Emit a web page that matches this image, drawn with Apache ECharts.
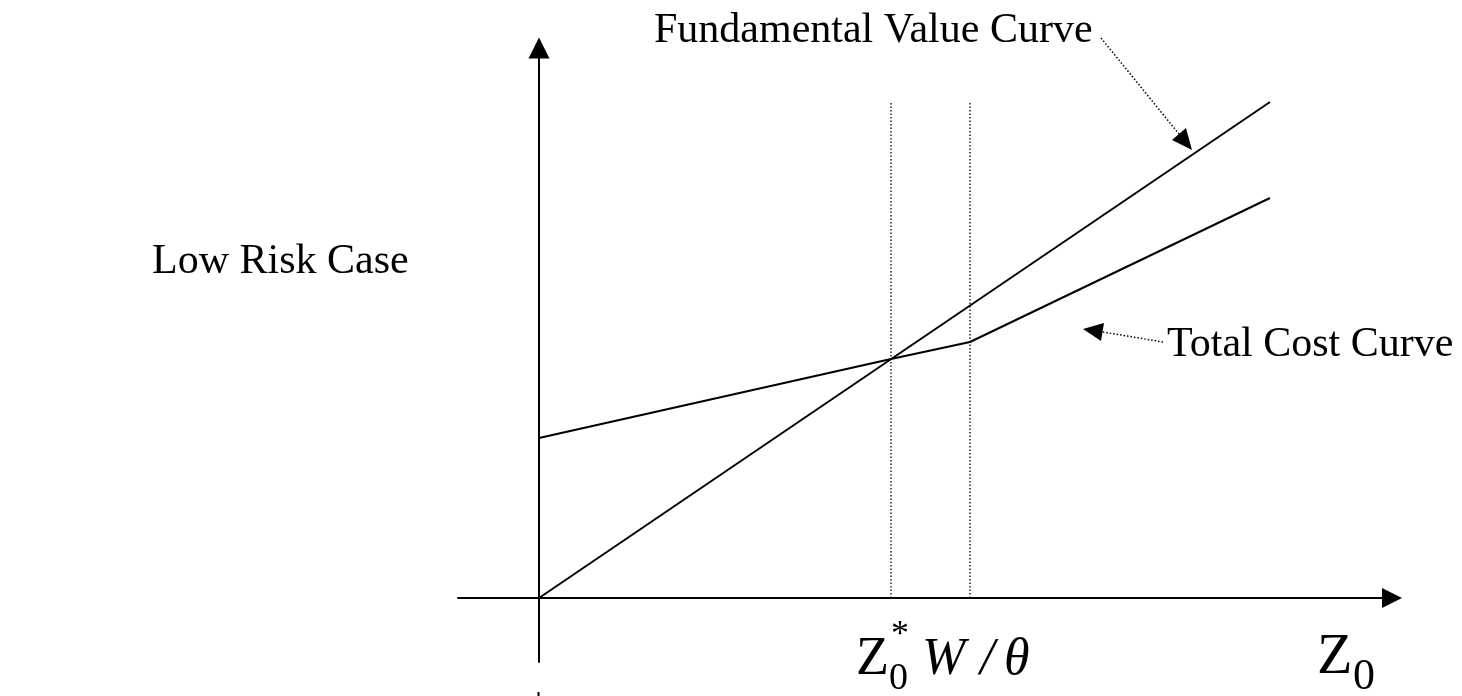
<!DOCTYPE html>
<html>
<head>
<meta charset="utf-8">
<title>Low Risk Case</title>
<script src="https://cdn.jsdelivr.net/npm/echarts@6/dist/echarts.min.js"></script>
<style>
  html, body { margin: 0; padding: 0; background: #ffffff; }
  #chart { width: 1462px; height: 696px; }
</style>
</head>
<body>
<div id="chart"></div>
<script>
// values, axes cross at (0, 0)
const fundamentalValue = [[0, 0], [73.1, 49.6]];
const totalCost = [[0, 16.0], [35.2, 23.9], [43.1, 25.6], [73.1, 40.0]];
const dropLinesX = [35.2, 43.1];   // Z0* and W/theta
const dropLineTop = 49.6;

const serif = '"Liberation Serif", "DejaVu Serif", serif';

const chart = echarts.init(document.getElementById('chart'));

function dropSeries(x) {
  return {
    type: 'line',
    data: [[x, 0], [x, dropLineTop]],
    symbol: 'none',
    silent: true,
    lineStyle: { color: '#000', width: 1.3, type: [1.5, 2] }
  };
}

function txt(x, y, text, font) {
  return { type: 'text', style: { x: x, y: y, text: text, font: font, fill: '#000', textVerticalAlign: 'middle' } };
}

const option = {
  animation: false,
  backgroundColor: '#ffffff',
  grid: { left: 458, right: 70, top: 48, bottom: 34 },
  xAxis: {
    type: 'value',
    min: -8.1,
    max: 85.3,
    axisLine: {
      onZero: true,
      symbol: ['none', 'triangle'],
      symbolSize: [20, 20],
      lineStyle: { color: '#000', width: 2 }
    },
    axisTick: { show: false },
    axisLabel: { show: false },
    splitLine: { show: false }
  },
  yAxis: {
    type: 'value',
    min: -6.4,
    max: 55,
    axisLine: {
      onZero: true,
      symbol: ['none', 'triangle'],
      symbolSize: [21, 21],
      lineStyle: { color: '#000', width: 2 }
    },
    axisTick: { show: false },
    axisLabel: { show: false },
    splitLine: { show: false }
  },
  series: [
    {
      name: 'Fundamental Value Curve',
      type: 'line',
      data: fundamentalValue,
      symbol: 'none',
      silent: true,
      lineStyle: { color: '#000', width: 2 }
    },
    {
      name: 'Total Cost Curve',
      type: 'line',
      data: totalCost,
      symbol: 'none',
      silent: true,
      lineStyle: { color: '#000', width: 2 }
    },
    dropSeries(dropLinesX[0]),
    dropSeries(dropLinesX[1])
  ],
  graphic: [
    // titles
    txt(654, 31, 'Fundamental Value Curve', '42px ' + serif),
    txt(1167, 345, 'Total Cost Curve', '42px ' + serif),
    txt(152, 262, 'Low Risk Case', '42px ' + serif),

    // leader arrow to the fundamental value curve
    { type: 'line', shape: { x1: 1101, y1: 38, x2: 1179, y2: 134 }, style: { stroke: '#000', lineWidth: 1.5, lineDash: [1.5, 2] } },
    { type: 'polygon', shape: { points: [[1192, 150], [1172, 140], [1186, 128]] }, style: { fill: '#000' } },

    // leader arrow to the total cost curve
    { type: 'line', shape: { x1: 1163, y1: 342, x2: 1103, y2: 332 }, style: { stroke: '#000', lineWidth: 1.5, lineDash: [1.5, 2] } },
    { type: 'polygon', shape: { points: [[1083, 329], [1104, 323], [1101, 341]] }, style: { fill: '#000' } },

    // Z0* W / theta
    txt(856, 660, 'Z', '54px ' + serif),
    txt(889, 679, '0', '38px ' + serif),
    txt(891, 636, '*', '36px ' + serif),
    txt(922, 660, 'W', 'italic 52px ' + serif),
    txt(980, 660, '/', 'italic 52px ' + serif),
    txt(1004, 660, 'θ', 'italic 52px ' + serif),

    // Z0 axis name
    txt(1317, 658, 'Z', '58px ' + serif),
    txt(1353, 677, '0', '44px ' + serif),

    // stub of the vertical axis below the bottom edge
    { type: 'line', shape: { x1: 538.5, y1: 692, x2: 538.5, y2: 696 }, style: { stroke: '#000', lineWidth: 2 } }
  ]
};

chart.setOption(option);
</script>
</body>
</html>
